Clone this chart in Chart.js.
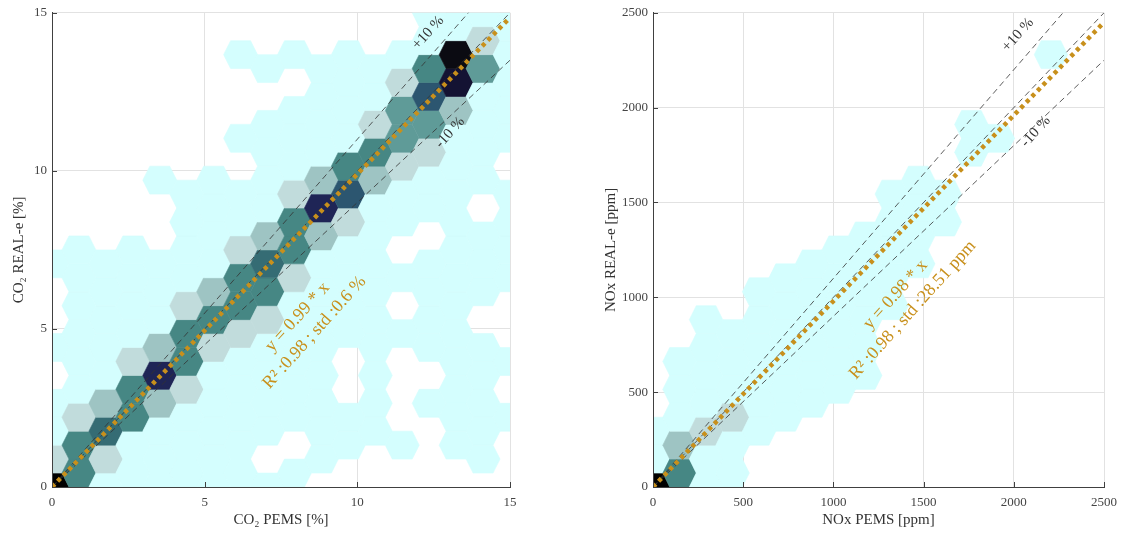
<!DOCTYPE html>
<html lang="en">
<head>
<meta charset="UTF-8">
<title>CO2 / NOx : PEMS vs REAL-e</title>
<script src="https://cdn.jsdelivr.net/npm/chart.js"></script>
<style>
  body { margin: 0; background: #fff; }
  .wrap { position: relative; width: 1125px; height: 536px; }
  canvas { position: absolute; top: 0; }
  #co2 { left: 0; }
  #nox { left: 560px; }
</style>
</head>
<body>
<div class="wrap">
  <canvas id="co2" width="560" height="536"></canvas>
  <canvas id="nox" width="565" height="536"></canvas>
</div>
<script>
// hexbin density class per column (col i = i * step), rows bottom -> top, 0 = empty bin
// odd columns are shifted up by half a row
const co2Bins = [
  [11, 2, 1, 1, 0, 1, 0, 0, 1],
  [5, 5, 2, 1, 1, 1, 1, 1, 1],
  [1, 2, 6, 3, 1, 1, 1, 1, 1],
  [1, 1, 5, 5, 2, 1, 1, 1, 1],
  [1, 1, 1, 3, 8, 3, 1, 1, 1, 0, 0, 1],
  [1, 1, 1, 2, 5, 5, 2, 1, 1, 1, 1],
  [1, 1, 1, 1, 1, 2, 5, 3, 1, 1, 1, 1],
  [1, 1, 1, 1, 1, 2, 5, 5, 2, 1, 1, 0, 1, 0, 0, 1],
  [1, 0, 1, 1, 1, 1, 2, 5, 6, 3, 1, 1, 1, 1, 0, 1],
  [1, 0, 1, 1, 1, 1, 1, 2, 5, 5, 2, 1, 1, 1, 0, 1],
  [0, 1, 1, 1, 1, 1, 1, 1, 1, 3, 8, 3, 1, 1, 1, 1],
  [0, 1, 1, 0, 0, 1, 1, 1, 1, 2, 7, 5, 1, 1, 1, 1],
  [0, 0, 1, 1, 1, 1, 1, 1, 1, 1, 1, 3, 5, 2, 1, 1],
  [0, 1, 0, 0, 0, 1, 0, 1, 0, 1, 1, 2, 4, 4, 2, 1],
  [0, 0, 0, 1, 0, 1, 1, 1, 1, 0, 1, 1, 2, 4, 7, 5, 1, 1],
  [0, 1, 1, 1, 1, 1, 1, 1, 1, 1, 1, 1, 1, 3, 9, 10, 1],
  [0, 1, 1, 1, 1, 1, 0, 1, 1, 1, 0, 1, 1, 1, 1, 4, 2, 1],
  [0, 0, 1, 0, 1, 0, 0, 1, 1, 1, 1, 0, 1, 1, 1, 1, 1]
];
const noxBins = [
  [11, 1, 1],
  [5, 3, 1, 1, 1],
  [1, 1, 2, 1, 1, 1, 1],
  [1, 1, 2, 1, 1, 1],
  [0, 0, 1, 1, 1, 1, 1, 1],
  [0, 0, 1, 1, 1, 1, 1, 1],
  [0, 0, 0, 1, 1, 1, 1, 1, 1],
  [0, 0, 0, 1, 1, 1, 1, 1, 1],
  [0, 0, 0, 0, 1, 1, 1, 1, 1, 1],
  [0, 0, 0, 0, 0, 0, 1, 1, 1, 1, 1],
  [0, 0, 0, 0, 0, 0, 0, 0, 1, 1, 1, 1],
  [0, 0, 0, 0, 0, 0, 0, 0, 0, 1, 1],
  [0, 0, 0, 0, 0, 0, 0, 0, 0, 0, 0, 0, 1, 1],
  [0, 0, 0, 0, 0, 0, 0, 0, 0, 0, 0, 0, 1],
  [],
  [0, 0, 0, 0, 0, 0, 0, 0, 0, 0, 0, 0, 0, 0, 0, 1]
];
const co2Ticks = [0, 5, 10, 15];
const noxTicks = [0, 500, 1000, 1500, 2000, 2500];
const co2Slope = 0.99;
const noxSlope = 0.98;
const bandPct = 0.1;
const co2Note = ['y = 0.99 * x', 'R² :0.98 ; std :0.6 %'];
const noxNote = ['y = 0.98 * x', 'R² :0.98 ; std :28.51 ppm'];
const bandLabels = ['+10 %', '-10 %'];

// colour for each density class (light cyan -> black)
const levelColors = [null, '#d4fefe', '#c1dcdc', '#9ec4c3', '#5f9b98', '#468784',
  '#356c74', '#2c5670', '#1f2556', '#141333', '#0b0b12', '#000000'];

const serif = "'Liberation Serif', 'DejaVu Serif', serif";
const gold = '#c8901c';

function hexCentres(bins, step) {
  const pts = [], lv = [];
  bins.forEach((col, i) => col.forEach((v, j) => {
    if (!v) return;
    pts.push({ x: i * step, y: (j + (i % 2 ? 0.5 : 0)) * step });
    lv.push(v);
  }));
  return { pts, lv };
}

// draws a flat-topped hexagon around every bin centre, sized from the scales
const hexPlugin = {
  id: 'hexbins',
  beforeDatasetsDraw(chart, args, opts) {
    const { ctx, chartArea: a, scales: { x, y } } = chart;
    const idx = chart.data.datasets.length - 1;
    const meta = chart.getDatasetMeta(idx);
    const lv = chart.data.datasets[idx].levels;
    const sx = Math.abs(x.getPixelForValue(opts.step) - x.getPixelForValue(0));
    const sy = Math.abs(y.getPixelForValue(opts.step) - y.getPixelForValue(0));
    const hw = sx * 0.63, ht = sx * 0.37, hh = sy / 2;
    ctx.save();
    ctx.beginPath();
    ctx.rect(a.left, a.top, a.width, a.height);
    ctx.clip();
    meta.data.forEach((p, i) => {
      ctx.fillStyle = ctx.strokeStyle = levelColors[lv[i]];
      ctx.lineWidth = 0.6;
      ctx.beginPath();
      ctx.moveTo(p.x - hw, p.y);
      ctx.lineTo(p.x - ht, p.y - hh);
      ctx.lineTo(p.x + ht, p.y - hh);
      ctx.lineTo(p.x + hw, p.y);
      ctx.lineTo(p.x + ht, p.y + hh);
      ctx.lineTo(p.x - ht, p.y + hh);
      ctx.closePath();
      ctx.fill();
      ctx.stroke();
    });
    ctx.restore();
  }
};

// axis lines + inward ticks on top of the bins, and rotated text placed in data coordinates
const notePlugin = {
  id: 'notes',
  afterDatasetsDraw(chart, args, opts) {
    const { ctx, chartArea: a, scales: { x, y } } = chart;
    ctx.save();
    ctx.strokeStyle = '#404040';
    ctx.lineWidth = 1;
    ctx.beginPath();
    ctx.moveTo(a.left + 0.5, a.top);
    ctx.lineTo(a.left + 0.5, a.bottom + 0.5);
    ctx.lineTo(a.right, a.bottom + 0.5);
    ctx.stroke();
    x.ticks.forEach(t => {
      const px = Math.round(x.getPixelForValue(t.value)) + 0.5;
      ctx.beginPath(); ctx.moveTo(px, a.bottom); ctx.lineTo(px, a.bottom - 5); ctx.stroke();
    });
    y.ticks.forEach(t => {
      const py = Math.round(y.getPixelForValue(t.value)) + 0.5;
      ctx.beginPath(); ctx.moveTo(a.left, py); ctx.lineTo(a.left + 5, py); ctx.stroke();
    });
    opts.items.forEach(it => {
      ctx.save();
      ctx.translate(x.getPixelForValue(it.x), y.getPixelForValue(it.y));
      ctx.rotate(it.angle * Math.PI / 180);
      ctx.font = it.font;
      ctx.fillStyle = it.color;
      ctx.textAlign = 'center';
      ctx.textBaseline = 'middle';
      it.lines.forEach((s, k) => ctx.fillText(s, 0, (k - (it.lines.length - 1) / 2) * it.gap));
      ctx.restore();
    });
    ctx.restore();
  }
};

function axis(o, ticks, title, titlePad, fit) {
  return {
    type: 'linear', min: 0, max: o.max,
    afterBuildTicks: s => { s.ticks = ticks.map(v => ({ value: v })); },
    ticks: { font: { family: serif, size: 13 }, color: '#444', padding: o.pad,
             maxRotation: 0, autoSkip: false, callback: v => String(v) },
    grid: { color: '#e2e2e2', drawTicks: false },
    border: { color: '#404040', width: 1 },
    title: { display: true, text: title, font: { family: serif, size: 15 }, color: '#333',
             padding: { top: titlePad, bottom: titlePad } },
    afterFit: fit
  };
}

function makeChart(id, o) {
  const step = o.max / 17;
  const hex = hexCentres(o.bins, step);
  const seg = (k, style) => Object.assign({
    data: [{ x: 0, y: 0 }, { x: o.max, y: o.max * k }],
    showLine: true, pointRadius: 0, fill: false
  }, style);
  const dash = { borderColor: '#333', borderWidth: 0.8, borderDash: [6, 4] };
  return new Chart(document.getElementById(id), {
    type: 'scatter',
    data: {
      datasets: [
        seg(o.slope, { borderColor: gold, borderWidth: 4.5, borderDash: [4, 4] }),
        seg(1, dash),
        seg(1 + bandPct, dash),
        seg(1 - bandPct, dash),
        { data: hex.pts, levels: hex.lv, pointRadius: 0, showLine: false }
      ]
    },
    options: {
      responsive: false,
      animation: false,
      events: [],
      layout: { padding: { left: 0, top: 12, right: o.padRight, bottom: 0 } },
      plugins: {
        legend: { display: false },
        tooltip: { enabled: false },
        hexbins: { step },
        notes: {
          items: [
            { x: o.note[0], y: o.note[1], angle: -48, lines: o.noteText, gap: 23,
              font: `18px ${serif}`, color: gold },
            { x: o.plus[0], y: o.plus[1], angle: -48, lines: [bandLabels[0]], gap: 0,
              font: `15px ${serif}`, color: '#333' },
            { x: o.minus[0], y: o.minus[1], angle: -48, lines: [bandLabels[1]], gap: 0,
              font: `15px ${serif}`, color: '#333' }
          ]
        }
      },
      scales: {
        x: axis(Object.assign({}, o, { pad: 8 }), o.ticks, o.xTitle, 7, s => { s.height = 49; }),
        y: axis(Object.assign({}, o, { pad: 5 }), o.ticks, o.yTitle, o.yTitlePad, s => { s.width = o.yWidth; })
      }
    },
    plugins: [hexPlugin, notePlugin]
  });
}

makeChart('co2', {
  max: 15, bins: co2Bins, ticks: co2Ticks, slope: co2Slope, noteText: co2Note,
  note: [8.32, 5.13], plus: [12.32, 14.37], minus: [13.04, 11.21],
  xTitle: 'CO₂ PEMS [%]', yTitle: 'CO₂ REAL-e [%]',
  yWidth: 52, yTitlePad: 10, padRight: 50
});
makeChart('nox', {
  max: 2500, bins: noxBins, ticks: noxTicks, slope: noxSlope, noteText: noxNote,
  note: [1392, 974], plus: [2023, 2384], minus: [2122, 1874],
  xTitle: 'NOx PEMS [ppm]', yTitle: 'NOx REAL-e [ppm]',
  yWidth: 93, yTitlePad: 42, padRight: 16
});
</script>
</body>
</html>
